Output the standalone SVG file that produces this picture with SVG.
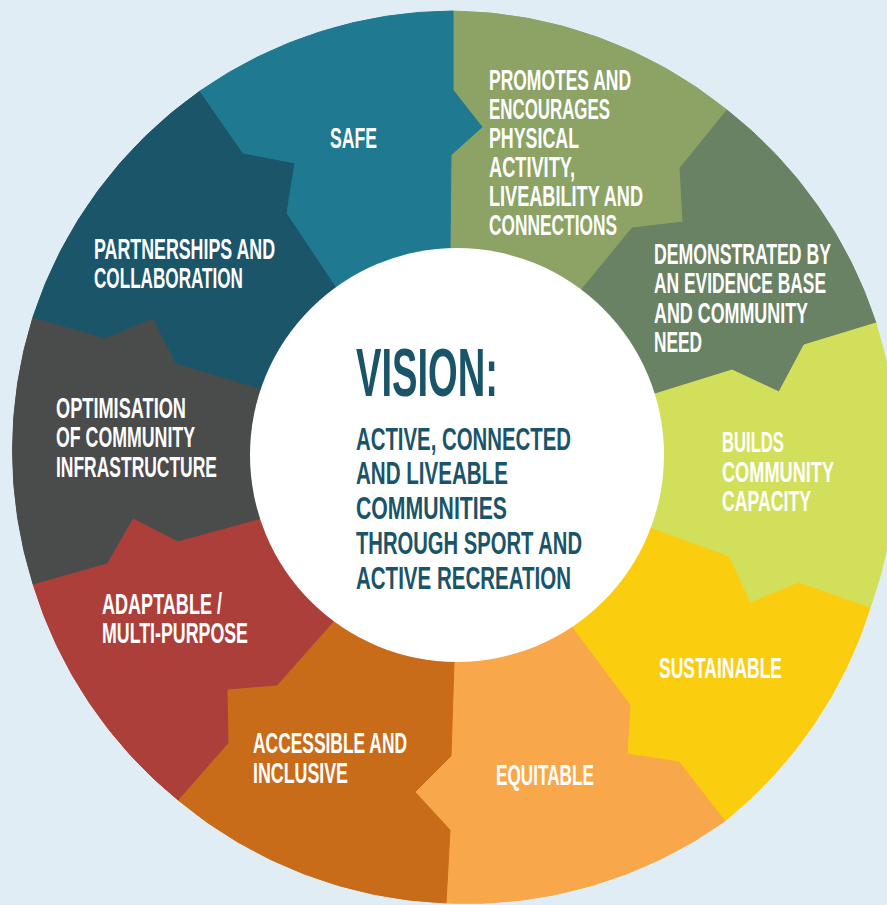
<svg xmlns="http://www.w3.org/2000/svg" width="887" height="905" viewBox="0 0 887 905">
  <style>
    .piece { stroke-width: 1; stroke-linejoin: round; }
    .lbl { font-family: "Liberation Sans", Arial, sans-serif; font-weight: bold; font-size: 30px; fill: #ffffff; }
    .core { font-family: "Liberation Sans", Arial, sans-serif; font-weight: bold; font-size: 32px; fill: #1a5469; }
    .title { font-size: 68px; }
  </style>

  <!-- backdrop -->
  <rect x="0" y="0" width="887" height="905" fill="#e1edf4"/>

  <!-- ring of interlocking pieces, clockwise from the top; labels are narrowed with scale(0.6 1) -->
  <g id="promotes">
    <path class="piece" fill="#8ca365" stroke="#8ca365" d="M457,455 L450,248 L451,155 L482,127 L453,90 L453,11 A445,445 0 0 1 727,110 L680,168 L683,222 L632,228 L582,289 Z"/>
    <text class="lbl" transform="translate(489 90) scale(0.6 1)" textLength="236.7" lengthAdjust="spacingAndGlyphs">PROMOTES AND</text>
    <text class="lbl" transform="translate(489 119) scale(0.6 1)" textLength="201.7" lengthAdjust="spacingAndGlyphs">ENCOURAGES</text>
    <text class="lbl" transform="translate(489 148) scale(0.6 1)" textLength="150" lengthAdjust="spacingAndGlyphs">PHYSICAL</text>
    <text class="lbl" transform="translate(489 177) scale(0.6 1)" textLength="143.3" lengthAdjust="spacingAndGlyphs">ACTIVITY,</text>
    <text class="lbl" transform="translate(489 206) scale(0.6 1)" textLength="256.7" lengthAdjust="spacingAndGlyphs">LIVEABILITY AND</text>
    <text class="lbl" transform="translate(489 235) scale(0.6 1)" textLength="213.3" lengthAdjust="spacingAndGlyphs">CONNECTIONS</text>
  </g>

  <g id="demonstrated">
    <path class="piece" fill="#6a8264" stroke="#6a8264" d="M457,455 L582,289 L632,228 L683,222 L680,168 L727,110 A445,445 0 0 1 876,323 L804,345 L779,392 L732,370 L655,394 Z"/>
    <text class="lbl" transform="translate(654 264) scale(0.6 1)" textLength="295" lengthAdjust="spacingAndGlyphs">DEMONSTRATED BY</text>
    <text class="lbl" transform="translate(654 293) scale(0.6 1)" textLength="286.7" lengthAdjust="spacingAndGlyphs">AN EVIDENCE BASE</text>
    <text class="lbl" transform="translate(654 323) scale(0.6 1)" textLength="256.7" lengthAdjust="spacingAndGlyphs">AND COMMUNITY</text>
    <text class="lbl" transform="translate(654 352) scale(0.6 1)" textLength="80" lengthAdjust="spacingAndGlyphs">NEED</text>
  </g>

  <g id="builds">
    <path class="piece" fill="#d2df5b" stroke="#d2df5b" d="M457,455 L655,394 L732,370 L779,392 L804,345 L876,323 A445,445 0 0 1 870,608 L799,583 L750,603 L729,557 L650,528 Z"/>
    <text class="lbl" transform="translate(722 452) scale(0.6 1)" textLength="103.3" lengthAdjust="spacingAndGlyphs">BUILDS</text>
    <text class="lbl" transform="translate(722 482) scale(0.6 1)" textLength="186.7" lengthAdjust="spacingAndGlyphs">COMMUNITY</text>
    <text class="lbl" transform="translate(722 511) scale(0.6 1)" textLength="148.3" lengthAdjust="spacingAndGlyphs">CAPACITY</text>
  </g>

  <g id="sustainable">
    <path class="piece" fill="#fbcd0f" stroke="#fbcd0f" d="M457,455 L650,528 L729,557 L750,603 L799,583 L870,608 A445,445 0 0 1 725,821 L679,762 L627,754 L630,705 L574,630 Z"/>
    <text class="lbl" transform="translate(659 678) scale(0.6 1)" textLength="205" lengthAdjust="spacingAndGlyphs">SUSTAINABLE</text>
  </g>

  <g id="equitable">
    <path class="piece" fill="#f8a84b" stroke="#f8a84b" d="M457,455 L574,630 L630,705 L627,754 L679,762 L725,821 A445,445 0 0 1 446,903 L450,830 L415,792 L451,756 L454,662 Z"/>
    <text class="lbl" transform="translate(496 785) scale(0.6 1)" textLength="163.3" lengthAdjust="spacingAndGlyphs">EQUITABLE</text>
  </g>

  <g id="accessible">
    <path class="piece" fill="#c96c1a" stroke="#c96c1a" d="M457,455 L454,662 L451,756 L415,792 L450,830 L446,903 A445,445 0 0 1 178,800 L228,743 L227,689 L277,685 L332,623 Z"/>
    <text class="lbl" transform="translate(253 753) scale(0.6 1)" textLength="256.7" lengthAdjust="spacingAndGlyphs">ACCESSIBLE AND</text>
    <text class="lbl" transform="translate(253 783) scale(0.6 1)" textLength="158.3" lengthAdjust="spacingAndGlyphs">INCLUSIVE</text>
  </g>

  <g id="adaptable">
    <path class="piece" fill="#ad3f3a" stroke="#ad3f3a" d="M457,455 L332,623 L277,685 L227,689 L228,743 L178,800 A445,445 0 0 1 33,584 L107,563 L133,518 L178,541 L258,519 Z"/>
    <text class="lbl" transform="translate(102 614) scale(0.6 1)" textLength="200" lengthAdjust="spacingAndGlyphs">ADAPTABLE /</text>
    <text class="lbl" transform="translate(102 643) scale(0.6 1)" textLength="243.3" lengthAdjust="spacingAndGlyphs">MULTI-PURPOSE</text>
  </g>

  <g id="optimisation">
    <path class="piece" fill="#4a4b4b" stroke="#4a4b4b" d="M457,455 L258,519 L178,541 L133,518 L107,563 L33,584 A445,445 0 0 1 33,317 L105,338 L153,318 L176,363 L259,388 Z"/>
    <text class="lbl" transform="translate(56 418) scale(0.6 1)" textLength="216.7" lengthAdjust="spacingAndGlyphs">OPTIMISATION</text>
    <text class="lbl" transform="translate(56 447) scale(0.6 1)" textLength="231.7" lengthAdjust="spacingAndGlyphs">OF COMMUNITY</text>
    <text class="lbl" transform="translate(56 477) scale(0.6 1)" textLength="268.3" lengthAdjust="spacingAndGlyphs">INFRASTRUCTURE</text>
  </g>

  <g id="partnerships">
    <path class="piece" fill="#1a556a" stroke="#1a556a" d="M457,455 L259,388 L176,363 L153,318 L105,338 L33,317 A445,445 0 0 1 200,91 L243,153 L295,163 L287,213 L335,285 Z"/>
    <text class="lbl" transform="translate(94 259) scale(0.6 1)" textLength="301.7" lengthAdjust="spacingAndGlyphs">PARTNERSHIPS AND</text>
    <text class="lbl" transform="translate(94 288) scale(0.6 1)" textLength="248.3" lengthAdjust="spacingAndGlyphs">COLLABORATION</text>
  </g>

  <g id="safe">
    <path class="piece" fill="#1f7991" stroke="#1f7991" d="M457,455 L335,285 L287,213 L295,163 L243,153 L200,91 A445,445 0 0 1 453,11 L453,90 L482,127 L451,155 L450,248 Z"/>
    <text class="lbl" transform="translate(330 148) scale(0.6 1)" textLength="78.3" lengthAdjust="spacingAndGlyphs">SAFE</text>
  </g>

  <!-- central vision disc -->
  <g id="vision">
    <circle cx="457" cy="455" r="207" fill="#ffffff"/>
    <text class="core title" transform="translate(356 396) scale(0.6 1)" textLength="236.7" lengthAdjust="spacingAndGlyphs">VISION:</text>
    <text class="core" transform="translate(356 450) scale(0.6 1)" textLength="358.3" lengthAdjust="spacingAndGlyphs">ACTIVE, CONNECTED</text>
    <text class="core" transform="translate(356 484) scale(0.6 1)" textLength="253.3" lengthAdjust="spacingAndGlyphs">AND LIVEABLE</text>
    <text class="core" transform="translate(356 519) scale(0.6 1)" textLength="251.7" lengthAdjust="spacingAndGlyphs">COMMUNITIES</text>
    <text class="core" transform="translate(356 554) scale(0.6 1)" textLength="376.7" lengthAdjust="spacingAndGlyphs">THROUGH SPORT AND</text>
    <text class="core" transform="translate(356 589) scale(0.6 1)" textLength="358.3" lengthAdjust="spacingAndGlyphs">ACTIVE RECREATION</text>
  </g>
</svg>
